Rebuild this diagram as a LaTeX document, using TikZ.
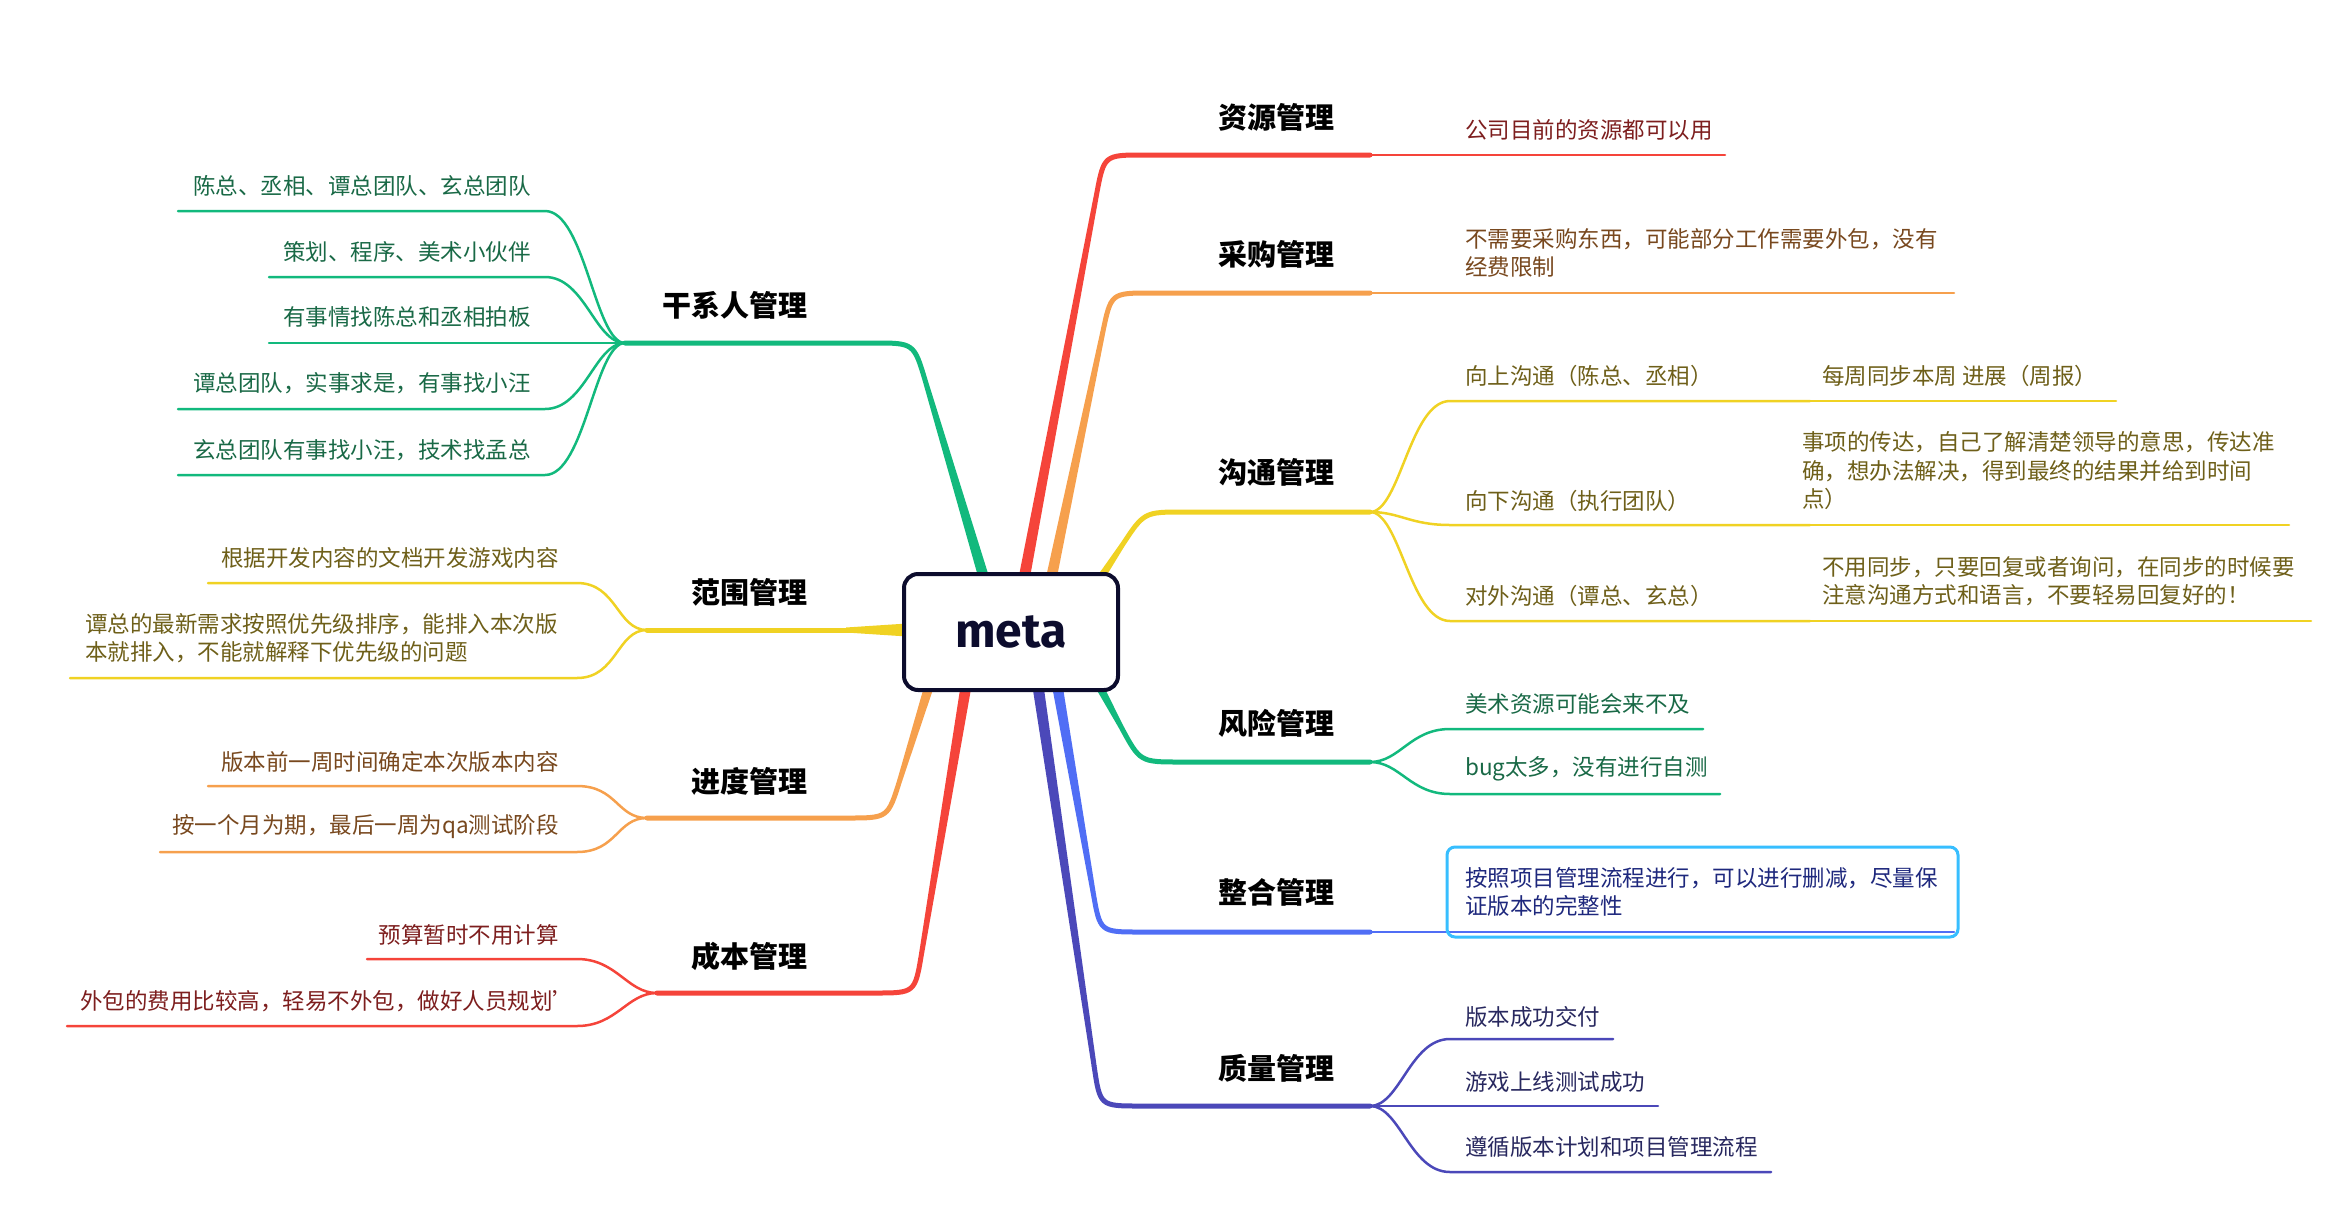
\documentclass[tikz,border=0pt]{standalone}
\usepackage{fontspec}
\setmainfont{Noto Sans CJK SC}
\newfontfamily\metafont{Fira Sans}
\usetikzlibrary{calc}

\definecolor{bred}{RGB}{245,68,58}
\definecolor{borange}{RGB}{246,160,77}
\definecolor{byellow}{RGB}{240,210,35}
\definecolor{bgreen}{RGB}{18,185,125}
\definecolor{bblue}{RGB}{80,110,245}
\definecolor{bindigo}{RGB}{75,72,185}
\definecolor{tred}{RGB}{125,30,30}
\definecolor{torange}{RGB}{120,72,30}
\definecolor{tyellow}{RGB}{110,95,25}
\definecolor{tgreen}{RGB}{25,105,70}
\definecolor{tblue}{RGB}{30,40,125}
\definecolor{tindigo}{RGB}{40,40,95}
\definecolor{navy}{RGB}{12,12,45}
\definecolor{selblue}{RGB}{55,190,255}

\tikzset{
  topic/.style={inner sep=0pt, font=\fontsize{29}{34}\selectfont\bfseries},
  leaf/.style={inner sep=0pt, align=left, font=\fontsize{22.5}{28.5}\selectfont},
  twig/.style={line width=2.5pt, line cap=round},
  trunk/.style={line width=5pt, line cap=round},
}

\begin{document}
\begin{tikzpicture}[x=1pt,y=-1pt]
\useasboundingbox (0,0) rectangle (2332,1205);

% trunks on the right
\foreach \sx/\cx/\y/\col/\name in {1014/1104/155/bred/ziyuan,1040/1111/293/borange/caigou,1065/1144/512/byellow/goutong,1070/1140/762/bgreen/fengxian,1048/1100/932/bblue/zhenghe,1030/1100/1106/bindigo/zhiliang}
{
\coordinate (\name-root) at (\sx,632);
\coordinate (\name-c) at (\cx,\y);
\coordinate (\name-fork) at (1370,\y);
\coordinate (\name-p) at ($(\name-c)!40pt!(\name-root)$);
\fill[\col] ($(\name-root)!6pt!90:(\name-p)$) -- ($(\name-p)!2.5pt!-90:(\name-root)$) -- ($(\name-p)!2.5pt!90:(\name-root)$) -- ($(\name-root)!6pt!-90:(\name-p)$) -- cycle;
\draw[trunk,\col] (\name-p) .. controls (\name-c) .. ($(\name-c)+(40,0)$) -- (\name-fork);
}

% trunks on the left
\foreach \sx/\cx/\y/\fx/\col/\name in {1000/914/343/625/bgreen/ganxi,946/888/818/647/borange/jindu,975/915/993/657/bred/chengben}
{
\coordinate (\name-root) at (\sx,632);
\coordinate (\name-c) at (\cx,\y);
\coordinate (\name-fork) at (\fx,\y);
\coordinate (\name-p) at ($(\name-c)!40pt!(\name-root)$);
\fill[\col] ($(\name-root)!6pt!90:(\name-p)$) -- ($(\name-p)!2.5pt!-90:(\name-root)$) -- ($(\name-p)!2.5pt!90:(\name-root)$) -- ($(\name-root)!6pt!-90:(\name-p)$) -- cycle;
\draw[trunk,\col] (\name-p) .. controls (\name-c) .. ($(\name-c)+(-40,0)$) -- (\name-fork);
}
\coordinate (fanwei-root) at (930,630);
\coordinate (fanwei-fork) at (647,630);
\draw[trunk,byellow] (fanwei-fork) -- (fanwei-root);
\fill[byellow] (846,627.5) -- (930,622) -- (930,638) -- (846,632.5) -- cycle;

% twigs
\foreach \f/\y/\xe/\col/\name in {ziyuan/155/1725/bred/r1,caigou/293/1954/borange/o1,zhenghe/932/1954/bblue/z1,zhiliang/1106/1658/bindigo/q2}
{
\coordinate (\name-b) at (\xe,\y);
\draw[twig,\col] (\f-fork) -- (\name-b);
}
\foreach \f/\y/\xe/\col/\name in {goutong/401/1810/byellow/g1,goutong/525/1810/byellow/g2,goutong/621/1810/byellow/g3,fengxian/729/1703/bgreen/f1,fengxian/794/1720/bgreen/f2,zhiliang/1039/1613/bindigo/q1,zhiliang/1172/1771/bindigo/q3}
{
\coordinate (\name-a) at (1450,\y);
\coordinate (\name-b) at (\xe,\y);
\draw[twig,\col] (\f-fork) .. controls +(30,0) and +(-40,0) .. (\name-a) -- (\name-b);
}
\draw[twig,byellow] (g1-b) -- (2116,401);
\draw[twig,byellow] (g2-b) -- (2289,525);
\draw[twig,byellow] (g3-b) -- (2311,621);
\foreach \f/\y/\xa/\xe/\col/\name in {ganxi/211/545/178/bgreen/s1,ganxi/277/545/269/bgreen/s2,ganxi/409/545/178/bgreen/s4,ganxi/475/545/178/bgreen/s5,fanwei/583/577/208/byellow/w1,fanwei/678/577/70/byellow/w2,jindu/786/577/208/borange/j1,jindu/852/577/160/borange/j2,chengben/959/577/367/bred/c1,chengben/1026/577/67/bred/c2}
{
\coordinate (\name-a) at (\xa,\y);
\coordinate (\name-b) at (\xe,\y);
\draw[twig,\col] (\f-fork) .. controls +(-30,0) and +(40,0) .. (\name-a) -- (\name-b);
}
\coordinate (s3-b) at (269,343);
\draw[twig,bgreen] (ganxi-fork) -- (s3-b);
\draw[selblue,line width=3pt,rounded corners=8pt] (1447,847) rectangle (1958,937);

% topics
\foreach \y/\name/\txt in {117/ziyuan/资源管理,254/caigou/采购管理,472/goutong/沟通管理,723/fengxian/风险管理,892/zhenghe/整合管理,1068/zhiliang/质量管理}
{
\node[topic,anchor=west] (\name-t) at (1218,\y) {\txt};
}
\foreach \y/\name/\txt in {305/ganxi/干系人管理,592/fanwei/范围管理,781/jindu/进度管理,956/chengben/成本管理}
{
\node[topic,anchor=east] (\name-t) at (808,\y) {\txt};
}

% leaves on the right
\foreach \x/\y/\col/\name/\txt in {1465/130/tred/r1/公司目前的资源都可以用,1465/253/torange/o1/{不需要采购东西，可能部分工作需要外包，没有\\经费限制},1465/376/tyellow/g1/向上沟通（陈总、丞相）,1465/501/tyellow/g2/向下沟通（执行团队）,1465/596/tyellow/g3/对外沟通（谭总、玄总）,1822/376/tyellow/g11/每周同步本周 进展（周报）,1802/471/tyellow/g21/{事项的传达，自己了解清楚领导的意思，传达准\\确，想办法解决，得到最终的结果并给到时间\\点）},1822/581/tyellow/g31/{不用同步，只要回复或者询问，在同步的时候要\\注意沟通方式和语言，不要轻易回复好的！},1465/704/tgreen/f1/美术资源可能会来不及,1465/769/tgreen/f2/bug太多，没有进行自测,1465/892/tblue/z1/{按照项目管理流程进行，可以进行删减，尽量保\\证版本的完整性},1465/1017/tindigo/q1/版本成功交付,1465/1082/tindigo/q2/游戏上线测试成功,1465/1147/tindigo/q3/遵循版本计划和项目管理流程}
{
\node[leaf,anchor=west,text=\col] (\name-t) at (\x,\y) {\txt};
}

% leaves on the left
\foreach \x/\y/\col/\name/\txt in {531/186/tgreen/s1/陈总、丞相、谭总团队、玄总团队,531/252/tgreen/s2/策划、程序、美术小伙伴,531/317/tgreen/s3/有事情找陈总和丞相拍板,531/383/tgreen/s4/谭总团队，实事求是，有事找小汪,531/450/tgreen/s5/玄总团队有事找小汪，技术找孟总,559/558/tyellow/w1/根据开发内容的文档开发游戏内容,559/762/torange/j1/版本前一周时间确定本次版本内容,559/827/torange/j2/按一个月为期，最后一周为qa测试阶段,559/935/tred/c1/预算暂时不用计算}
{
\node[leaf,anchor=east,text=\col] (\name-t) at (\x,\y) {\txt};
}
\node[leaf,anchor=west,text=tred] (c2-t) at (80,1001) {外包的费用比较高，轻易不外包，做好人员规划’};
\node[leaf,anchor=west,text=tyellow] (w2-t) at (85,638) {谭总的最新需求按照优先级排序，能排入本次版\\本就排入，不能就解释下优先级的问题};

% central topic
\node[draw=navy,line width=4pt,rounded corners=14pt,fill=white,minimum width=214pt,minimum height=116pt,text=navy,font=\metafont\bfseries\fontsize{48}{50}\selectfont] (meta) at (1011,632) {meta};
\end{tikzpicture}
\end{document}
